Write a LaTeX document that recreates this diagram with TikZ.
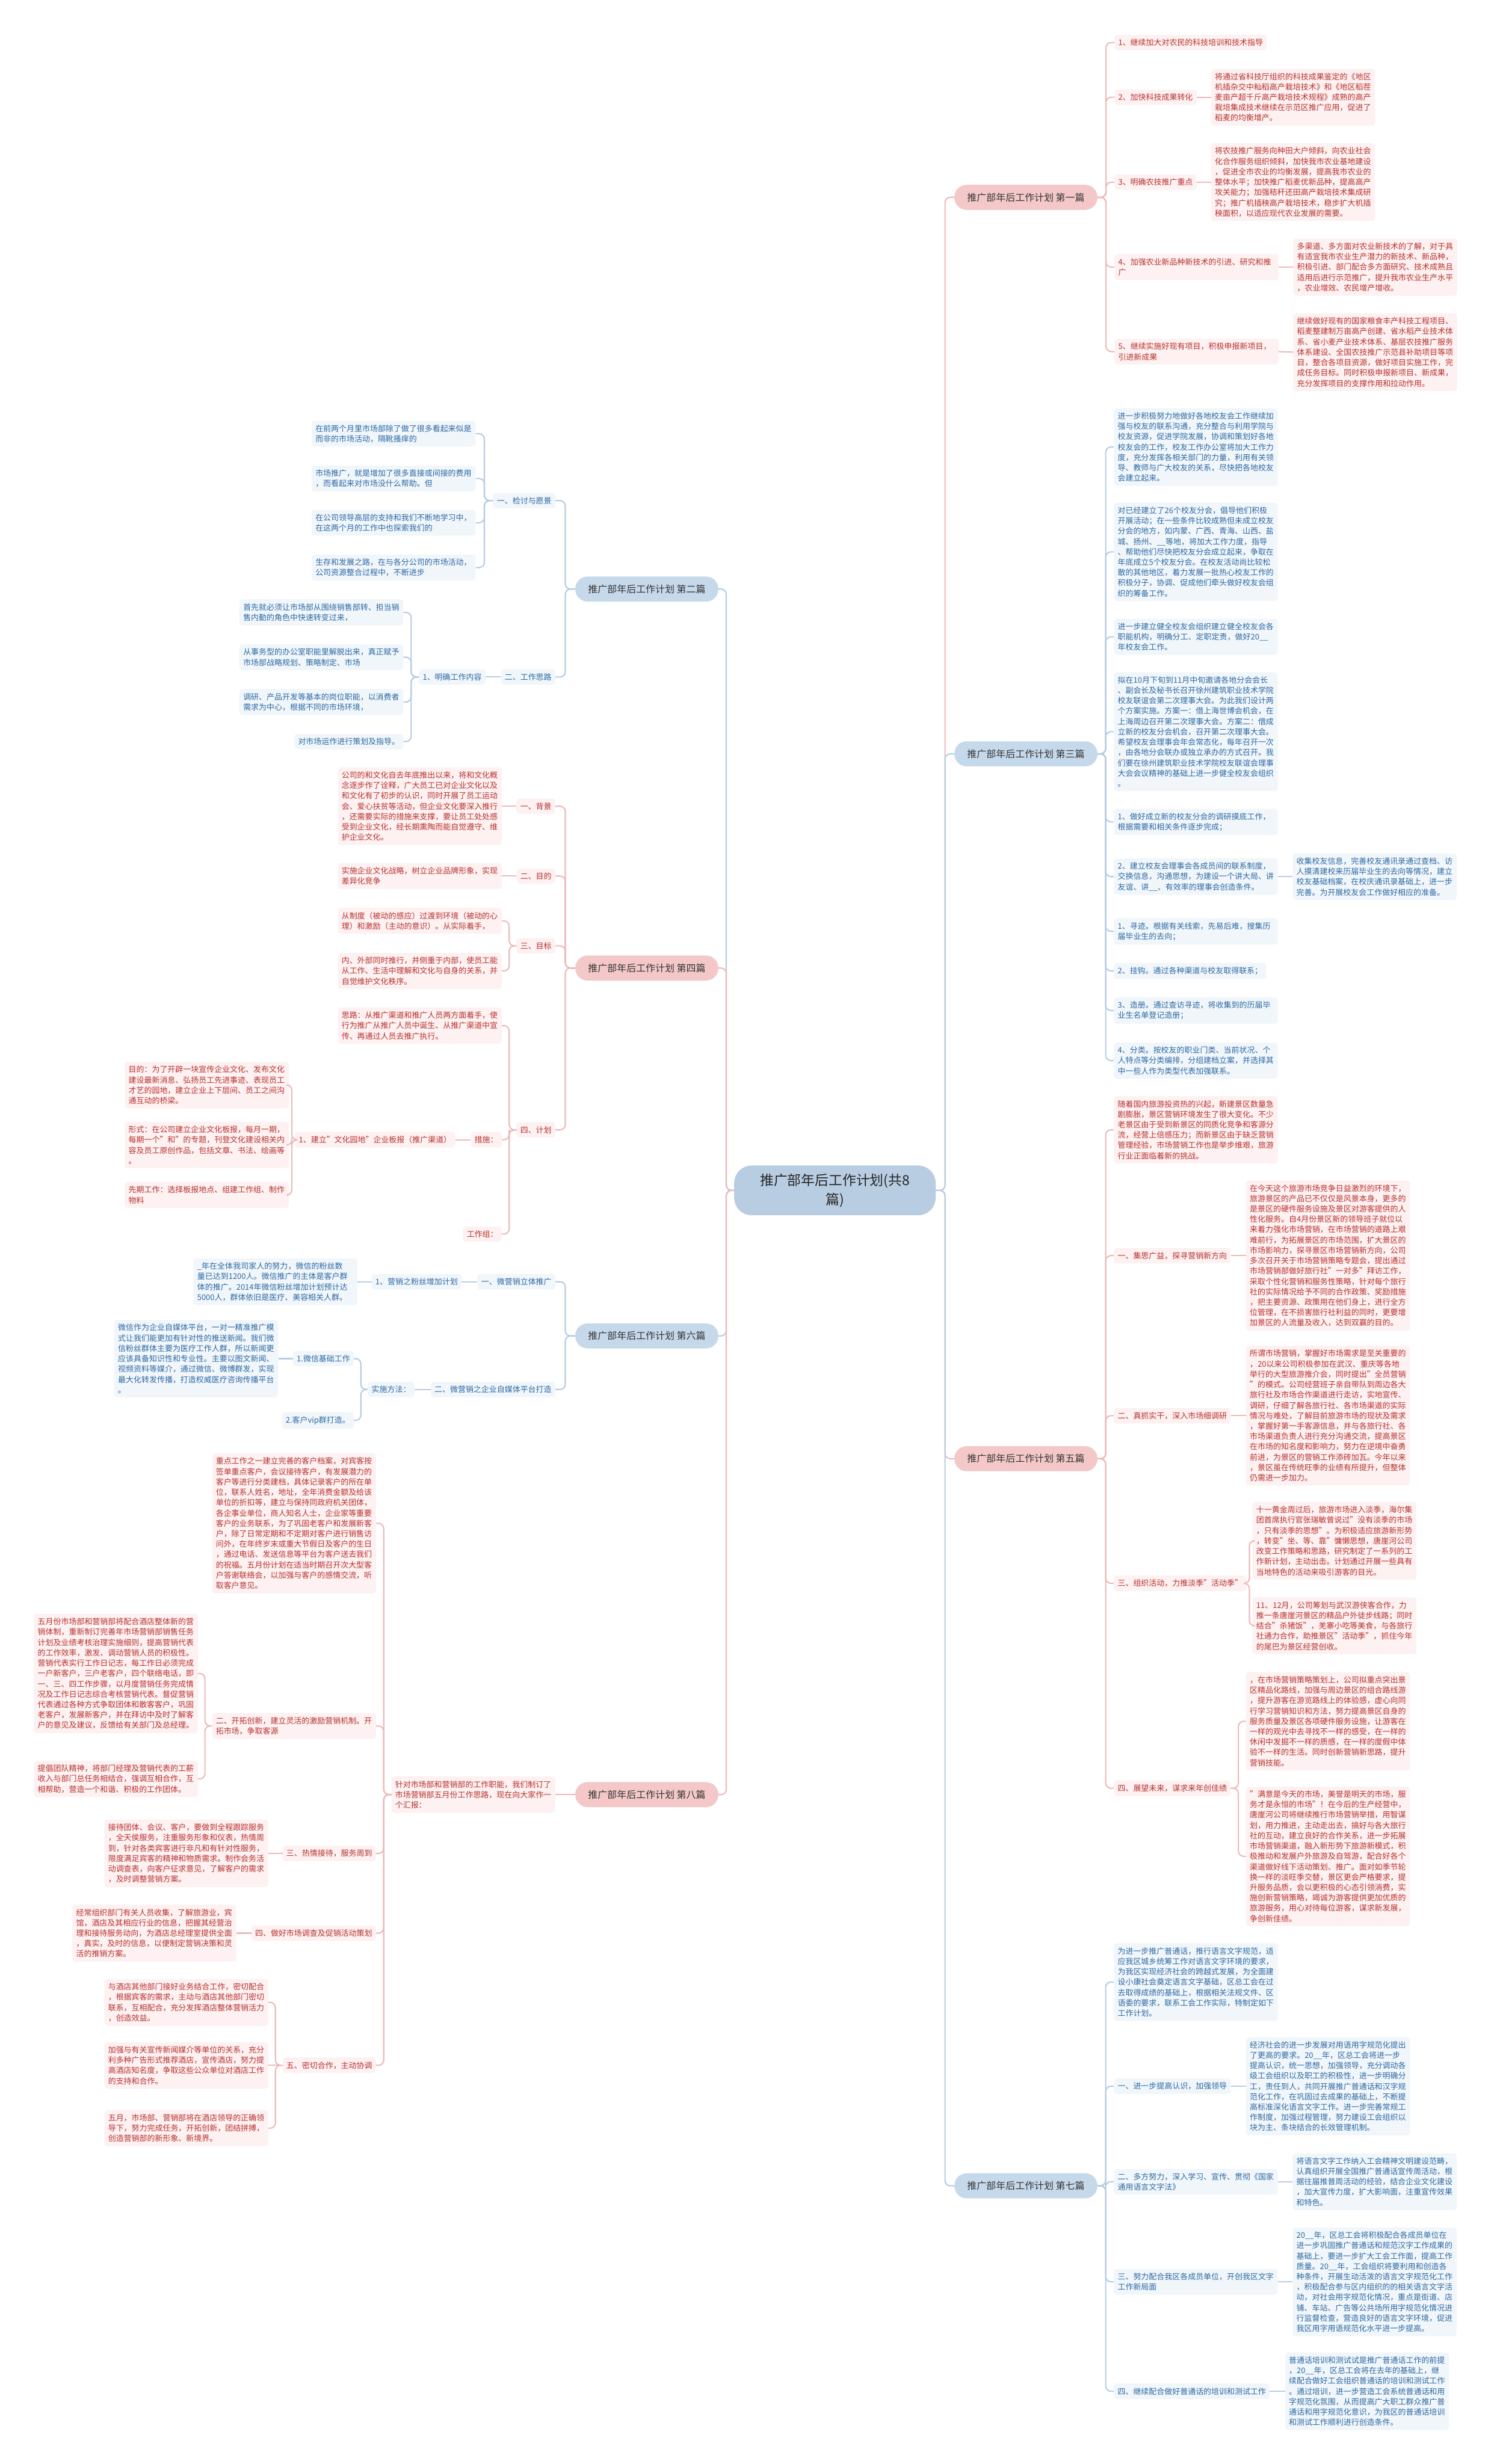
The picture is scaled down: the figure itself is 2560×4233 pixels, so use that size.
\documentclass[tikz,border=0pt]{standalone}
\usepackage{fontspec}
\setmainfont{Noto Sans CJK SC}
\usetikzlibrary{calc}

% break between any two CJK characters, punctuation included
\XeTeXinterchartokenstate=1
\count255="3000
\loop \XeTeXcharclass\count255=7 \advance\count255 by 1 \ifnum\count255<"3040 \repeat
\count255="4E00
\loop \XeTeXcharclass\count255=7 \advance\count255 by 1 \ifnum\count255<"A000 \repeat
\count255="FF00
\loop \XeTeXcharclass\count255=7 \advance\count255 by 1 \ifnum\count255<"FFF0 \repeat
\XeTeXinterchartoks 7 7 = {\hskip0pt plus 0.1pt\relax}
\XeTeXinterchartoks 0 7 = {\hskip0pt plus 0.1pt\relax}
\XeTeXinterchartoks 7 0 = {\hskip0pt plus 0.1pt\relax}

\definecolor{rtxt}{HTML}{B8312F}
\definecolor{rfill}{HTML}{FDF1F1}
\definecolor{rbr}{HTML}{F4C8C8}
\definecolor{rln}{HTML}{EDBABA}
\definecolor{btxt}{HTML}{2C69A3}
\definecolor{bfill}{HTML}{F1F6FB}
\definecolor{bbr}{HTML}{C6D9EB}
\definecolor{bln}{HTML}{B6CDE3}
\definecolor{ctr}{HTML}{B8CDE2}

\begin{document}
\begin{tikzpicture}[x=1pt,y=-1pt,
  base/.style={rounded corners=5pt,inner xsep=6.5pt,inner ysep=7pt,font=\fontsize{13.4}{17.8}\selectfont,align=left},
  rbox/.style={base,fill=rfill,text=rtxt},
  bbox/.style={base,fill=bfill,text=btxt},
  wide/.style={text width=268.5pt},
  branch/.style={rounded corners=21pt,minimum height=43pt,inner xsep=22pt,text=black!80,font=\fontsize{16.5}{20}\selectfont},
  rbranch/.style={branch,fill=rbr},
  bbranch/.style={branch,fill=bbr},
  cnode/.style={fill=ctr,text=black!85,rounded corners=30pt,text width=262pt,align=center,inner xsep=42pt,inner ysep=14pt,font=\fontsize{23.6}{33}\selectfont},
  rl/.style={draw=rln,line width=2.2pt,rounded corners=9pt},
  bl/.style={draw=bln,line width=2.2pt,rounded corners=9pt},
  elbow/.style={to path={-| ($(\tikztostart)!.5!(\tikztotarget)$) |- (\tikztotarget)}}]

\fill[white] (0,0) rectangle (2560,4233);
\useasboundingbox (0,0) rectangle (2560,4233);

\node[cnode] (root) at (1434,2045) {推广部年后工作计划(共8\\篇)};

\node[rbranch,anchor=west] (p1) at (1639,339) {推广部年后工作计划 第一篇};
\node[bbranch,anchor=west] (p3) at (1639,1295) {推广部年后工作计划 第三篇};
\node[rbranch,anchor=west] (p5) at (1639,2506) {推广部年后工作计划 第五篇};
\node[bbranch,anchor=west] (p7) at (1639,3755) {推广部年后工作计划 第七篇};
\node[bbranch,anchor=east] (p2) at (1234,1012) {推广部年后工作计划 第二篇};
\node[rbranch,anchor=east] (p4) at (1234,1663) {推广部年后工作计划 第四篇};
\node[bbranch,anchor=east] (p6) at (1234,2295) {推广部年后工作计划 第六篇};
\node[rbranch,anchor=east] (p8) at (1234,3083) {推广部年后工作计划 第八篇};

\foreach \p/\s in {p1/rl,p3/bl,p5/rl,p7/bl}
  \draw[\s] (root.east) to[elbow] (\p.west);
\foreach \p/\s in {p2/bl,p4/rl,p6/bl,p8/rl}
  \draw[\s] (root.west) to[elbow] (\p.east);

% 第一篇
\node[rbox,anchor=west] (r1a) at (1914,73) {1、继续加大对农民的科技培训和技术指导};
\node[rbox,anchor=west] (r1b) at (1914,167) {2、加快科技成果转化};
\node[rbox,anchor=west] (r1c) at (1914,313) {3、明确农技推广重点};
\node[rbox,wide,anchor=west] (r1d) at (1914,459) {4、加强农业新品种新技术的引进、研究和推广};
\node[rbox,wide,anchor=west] (r1e) at (1914,604) {5、继续实施好现有项目，积极申报新项目，引进新成果};
\node[rbox,wide,anchor=west] (d1b) at (2080,167) {将通过省科技厅组织的科技成果鉴定的《地区机插杂交中籼稻高产栽培技术》和《地区稻茬麦亩产超千斤高产栽培技术规程》成熟的高产栽培集成技术继续在示范区推广应用，促进了稻麦的均衡增产。};
\node[rbox,wide,anchor=west] (d1c) at (2080,313) {将农技推广服务向种田大户倾斜，向农业社会化合作服务组织倾斜，加快我市农业基地建设，促进全市农业的均衡发展，提高我市农业的整体水平；加快推广稻麦优新品种，提高高产攻关能力；加强秸秆还田高产栽培技术集成研究；推广机插秧高产栽培技术，稳步扩大机插秧面积，以适应现代农业发展的需要。};
\node[rbox,wide,anchor=west] (d1d) at (2221,459) {多渠道、多方面对农业新技术的了解，对于具有适宜我市农业生产潜力的新技术、新品种，积极引进、部门配合多方面研究、技术成熟且适用后进行示范推广，提升我市农业生产水平，农业增效、农民增产增收。};
\node[rbox,wide,anchor=west] (d1e) at (2221,605) {继续做好现有的国家粮食丰产科技工程项目、稻麦整建制万亩高产创建、省水稻产业技术体系、省小麦产业技术体系、基层农技推广服务体系建设、全国农技推广示范县补助项目等项目，整合各项目资源，做好项目实施工作，完成任务目标。同时积极申报新项目、新成果，充分发挥项目的支撑作用和拉动作用。};
\foreach \c in {r1a,r1b,r1c,r1d,r1e}
  \draw[rl] (p1.east) to[elbow] (\c.west);
\foreach \a/\b in {r1b/d1b,r1c/d1c,r1d/d1d,r1e/d1e}
  \draw[rl] (\a.east) -- (\b.west);

% 第三篇
\node[bbox,wide,anchor=west] (r3a) at (1913,768) {进一步积极努力地做好各地校友会工作继续加强与校友的联系沟通，充分整合与利用学院与校友资源，促进学院发展，协调和策划好各地校友会的工作，校友工作办公室将加大工作力度，充分发挥各相关部门的力量，利用有关领导、教师与广大校友的关系，尽快把各地校友会建立起来。};
\node[bbox,wide,anchor=west] (r3b) at (1913,948) {对已经建立了26个校友分会，倡导他们积极开展活动；在一些条件比较成熟但未成立校友分会的地方，如内蒙、广西、青海、山西、盐城、扬州、\_\_等地，将加大工作力度，指导、帮助他们尽快把校友分会成立起来，争取在年底成立5个校友分会。在校友活动尚比较松散的其他地区，着力发展一批热心校友工作的积极分子，协调、促成他们牵头做好校友会组织的筹备工作。};
\node[bbox,wide,anchor=west] (r3c) at (1913,1094) {进一步建立健全校友会组织建立健全校友会各职能机构，明确分工、定职定责，做好20\_\_年校友会工作。};
\node[bbox,wide,anchor=west] (r3d) at (1913,1257) {拟在10月下旬到11月中旬邀请各地分会会长、副会长及秘书长召开徐州建筑职业技术学院校友联谊会第二次理事大会。为此我们设计两个方案实施。方案一：借上海世博会机会，在上海周边召开第二次理事大会。方案二：借成立新的校友分会机会，召开第二次理事大会。希望校友会理事会年会常态化，每年召开一次，由各地分会联办或独立承办的方式召开。我们要在徐州建筑职业技术学院校友联谊会理事大会会议精神的基础上进一步健全校友会组织。};
\node[bbox,wide,anchor=west] (r3e) at (1913,1412) {1、做好成立新的校友分会的调研摸底工作，根据需要和相关条件逐步完成；};
\node[bbox,wide,anchor=west] (r3f) at (1913,1506) {2、建立校友会理事会各成员间的联系制度，交换信息，沟通思想，为建设一个讲大局、讲友谊、讲\_\_、有效率的理事会创造条件。};
\node[bbox,wide,anchor=west] (d3f) at (2220,1506) {收集校友信息，完善校友通讯录通过查档、访人摸清建校来历届毕业生的去向等情况，建立校友基础档案，在校庆通讯录基础上，进一步完善。为开展校友会工作做好相应的准备。};
\node[bbox,wide,anchor=west] (r3g) at (1913,1600) {1、寻迹。根据有关线索，先易后难，搜集历届毕业生的去向；};
\node[bbox,anchor=west] (r3h) at (1913,1668) {2、挂钩。通过各种渠道与校友取得联系；};
\node[bbox,wide,anchor=west] (r3i) at (1913,1736) {3、造册。通过查访寻迹，将收集到的历届毕业生名单登记造册；};
\node[bbox,wide,anchor=west] (r3j) at (1913,1822) {4、分类。按校友的职业门类、当前状况、个人特点等分类编排，分组建档立案，并选择其中一些人作为类型代表加强联系。};
\foreach \c in {r3a,r3b,r3c,r3d,r3e,r3f,r3g,r3h,r3i,r3j}
  \draw[bl] (p3.east) to[elbow] (\c.west);
\draw[bl] (r3f.east) -- (d3f.west);

% 第五篇
\node[rbox,wide,anchor=west] (r5a) at (1913,1941) {随着国内旅游投资热的兴起，新建景区数量急剧膨胀，景区营销环境发生了很大变化。不少老景区由于受到新景区的同质化竞争和客源分流，经营上倍感压力；而新景区由于缺乏营销管理经验，市场营销工作也是举步维艰，旅游行业正面临着新的挑战。};
\node[rbox,anchor=west] (r5b) at (1913,2157) {一、集思广益，探寻营销新方向};
\node[rbox,anchor=west] (r5c) at (1913,2432) {二、真抓实干，深入市场细调研};
\node[rbox,anchor=west] (r5d) at (1913,2720) {三、组织活动，力推淡季"活动季"};
\node[rbox,anchor=west] (r5e) at (1913,3072) {四、展望未来，谋求来年创佳绩};
\node[rbox,wide,anchor=west] (d5b) at (2140,2157) {在今天这个旅游市场竞争日益激烈的环境下，旅游景区的产品已不仅仅是风景本身，更多的是景区的硬件服务设施及景区对游客提供的人性化服务。自4月份景区新的领导班子就位以来着力强化市场营销，在市场营销的道路上艰难前行，为拓展景区的市场范围，扩大景区的市场影响力，探寻景区市场营销新方向，公司多次召开关于市场营销策略专题会，提出通过市场营销部做好旅行社"一对多"拜访工作，采取个性化营销和服务性策略，针对每个旅行社的实际情况给予不同的合作政策、奖励措施，把主要资源、政策用在他们身上，进行全方位管理，在不损害旅行社利益的同时，更要增加景区的人流量及收入，达到双赢的目的。};
\node[rbox,wide,anchor=west] (d5c) at (2140,2432) {所谓市场营销，掌握好市场需求是至关重要的，20以来公司积极参加在武汉、重庆等各地举行的大型旅游推介会，同时提出"全员营销"的模式。公司经营班子亲自带队到周边各大旅行社及市场合作渠道进行走访，实地宣传、调研，仔细了解各旅行社、各市场渠道的实际情况与难处，了解目前旅游市场的现状及需求，掌握好第一手客源信息，并与各旅行社、各市场渠道负责人进行充分沟通交流，提高景区在市场的知名度和影响力，努力在逆境中奋勇前进，为景区的营销工作添砖加瓦。今年以来，景区虽在传统旺季的业绩有所提升，但整体仍需进一步加力。};
\node[rbox,wide,anchor=west] (d5d1) at (2151,2647) {十一黄金周过后，旅游市场进入淡季，海尔集团首席执行官张瑞敏曾说过"没有淡季的市场，只有淡季的思想"。为积极适应旅游新形势，转变"坐、等、靠"慵懒思想，唐崖河公司改变工作策略和思路，研究制定了一系列的工作新计划，主动出击。计划通过开展一些具有当地特色的活动来吸引游客的目光。};
\node[rbox,wide,anchor=west] (d5d2) at (2151,2793) {11、12月，公司筹划与武汉游侠客合作，力推一条唐崖河景区的精品户外徒步线路；同时结合"杀猪饭"，羌寨小吃等美食，与各旅行社通力合作，助推景区"活动季"，抓住今年的尾巴为景区经营创收。};
\node[rbox,wide,anchor=west] (d5e1) at (2140,2957) {，在市场营销策略策划上，公司拟重点突出景区精品化路线，加强与周边景区的组合路线游，提升游客在游览路线上的体验感，虚心向同行学习营销知识和方法，努力提高景区自身的服务质量及景区各项硬件服务设施，让游客在一样的观光中去寻找不一样的感受，在一样的休闲中发掘不一样的质感，在一样的度假中体验不一样的生活。同时创新营销新思路，提升营销技能。};
\node[rbox,wide,anchor=west] (d5e2) at (2140,3189) {"满意是今天的市场，美誉是明天的市场，服务才是永恒的市场"！在今后的生产经营中，唐崖河公司将继续推行市场营销举措，用智谋划，用力推进，主动走出去，搞好与各大旅行社的互动，建立良好的合作关系，进一步拓展市场营销渠道，融入新形势下旅游新模式，积极推动和发展户外旅游及自驾游，配合好各个渠道做好线下活动策划、推广。面对如季节轮换一样的淡旺季交替，景区更会严格要求，提升服务品质，会以更积极的心态引领消费，实施创新营销策略，竭诚为游客提供更加优质的旅游服务，用心对待每位游客，谋求新发展，争创新佳绩。};
\foreach \c in {r5a,r5b,r5c,r5d,r5e}
  \draw[rl] (p5.east) to[elbow] (\c.west);
\foreach \a/\b in {r5b/d5b,r5c/d5c}
  \draw[rl] (\a.east) -- (\b.west);
\foreach \a/\b in {r5d/d5d1,r5d/d5d2,r5e/d5e1,r5e/d5e2}
  \draw[rl] (\a.east) to[elbow] (\b.west);

% 第七篇
\node[bbox,wide,anchor=west] (r7a) at (1913,3405) {为进一步推广普通话，推行语言文字规范，适应我区城乡统筹工作对语言文字环境的要求，为我区实现经济社会的跨越式发展，为全面建设小康社会奠定语言文字基础，区总工会在过去取得成绩的基础上，根据相关法规文件、区语委的要求，联系工会工作实际，特制定如下工作计划。};
\node[bbox,anchor=west] (r7b) at (1913,3584) {一、进一步提高认识，加强领导};
\node[bbox,wide,anchor=west] (r7c) at (1913,3748) {二、多方努力，深入学习、宣传、贯彻《国家通用语言文字法》};
\node[bbox,wide,anchor=west] (r7d) at (1913,3920) {三、努力配合我区各成员单位，开创我区文字工作新局面};
\node[bbox,anchor=west] (r7e) at (1913,4108) {四、继续配合做好普通话的培训和测试工作};
\node[bbox,wide,anchor=west] (d7b) at (2140,3584) {经济社会的进一步发展对用语用字规范化提出了更高的要求。20\_\_年，区总工会将进一步提高认识，统一思想，加强领导，充分调动各级工会组织以及职工的积极性，进一步明确分工，责任到人，共同开展推广普通话和汉字规范化工作，在巩固过去成果的基础上，不断提高标准深化语言文字工作。进一步完善常规工作制度，加强过程管理，努力建设工会组织以块为主、条块结合的长效管理机制。};
\node[bbox,wide,anchor=west] (d7c) at (2220,3748) {将语言文字工作纳入工会精神文明建设范畴，认真组织开展全国推广普通话宣传周活动，根据往届推普周活动的经验，结合企业文化建设，加大宣传力度，扩大影响面，注重宣传效果和特色。};
\node[bbox,wide,anchor=west] (d7d) at (2220,3920) {20\_\_年，区总工会将积极配合各成员单位在进一步巩固推广普通话和规范汉字工作成果的基础上，要进一步扩大工会工作面，提高工作质量。20\_\_年，工会组织将要利用和创造各种条件，开展生动活泼的语言文字规范化工作，积极配合参与区内组织的的相关语言文字活动，对社会用字规范化情况，重点是街道、店铺、车站、广告等公共场所用字规范化情况进行监督检查，营造良好的语言文字环境，促进我区用字用语规范化水平进一步提高。};
\node[bbox,wide,anchor=west] (d7e) at (2207,4108) {普通话培训和测试试是推广普通话工作的前提，20\_\_年，区总工会将在去年的基础上，继续配合做好工会组织普通话的培训和测试工作。通过培训，进一步营造工会系统普通话和用字规范化氛围，从而提高广大职工群众推广普通话和用字规范化意识，为我区的普通话培训和测试工作顺利进行创造条件。};
\foreach \c in {r7a,r7b,r7c,r7d,r7e}
  \draw[bl] (p7.east) to[elbow] (\c.west);
\foreach \a/\b in {r7b/d7b,r7c/d7c,r7d/d7d,r7e/d7e}
  \draw[bl] (\a.east) -- (\b.west);

% 第二篇
\node[bbox,anchor=east] (l2a) at (954,860) {一、检讨与愿景};
\node[bbox,wide,anchor=east] (l2a1) at (817,745) {在前两个月里市场部除了做了很多看起来似是而非的市场活动，隔靴搔痒的};
\node[bbox,wide,anchor=east] (l2a2) at (817,822) {市场推广，就是增加了很多直接或间接的费用，而看起来对市场没什么帮助。但};
\node[bbox,wide,anchor=east] (l2a3) at (817,898) {在公司领导高层的支持和我们不断地学习中，在这两个月的工作中也探索我们的};
\node[bbox,wide,anchor=east] (l2a4) at (817,975) {生存和发展之路，在与各分公司的市场活动，公司资源整合过程中，不断进步};
\node[bbox,anchor=east] (l2b) at (954,1163) {二、工作思路};
\node[bbox,anchor=east] (l2b1) at (834,1163) {1、明确工作内容};
\node[bbox,wide,anchor=east] (l2b1a) at (693,1052) {首先就必须让市场部从围绕销售部转、担当销售内勤的角色中快速转变过来，};
\node[bbox,wide,anchor=east] (l2b1b) at (693,1129) {从事务型的办公室职能里解脱出来，真正赋予市场部战略规划、策略制定、市场};
\node[bbox,wide,anchor=east] (l2b1c) at (693,1206) {调研、产品开发等基本的岗位职能，以消费者需求为中心，根据不同的市场环境，};
\node[bbox,anchor=east] (l2b1d) at (693,1274) {对市场运作进行策划及指导。};
\foreach \c in {l2a,l2b}
  \draw[bl] (p2.west) to[elbow] (\c.east);
\foreach \c in {l2a1,l2a2,l2a3,l2a4}
  \draw[bl] (l2a.west) to[elbow] (\c.east);
\draw[bl] (l2b.west) -- (l2b1.east);
\foreach \c in {l2b1a,l2b1b,l2b1c,l2b1d}
  \draw[bl] (l2b1.west) to[elbow] (\c.east);

% 第四篇
\node[rbox,anchor=east] (l4a) at (954,1385) {一、背景};
\node[rbox,wide,anchor=east] (l4ad) at (862,1385) {公司的和文化自去年底推出以来，将和文化概念逐步作了诠释，广大员工已对企业文化以及和文化有了初步的认识，同时开展了员工运动会、爱心扶贫等活动，但企业文化要深入推行，还需要实际的措施来支撑，要让员工处处感受到企业文化，经长期熏陶而能自觉遵守、维护企业文化。};
\node[rbox,anchor=east] (l4b) at (954,1505) {二、目的};
\node[rbox,wide,anchor=east] (l4bd) at (862,1505) {实施企业文化战略，树立企业品牌形象，实现差异化竞争};
\node[rbox,anchor=east] (l4c) at (954,1625) {三、目标};
\node[rbox,wide,anchor=east] (l4c1) at (862,1582) {从制度（被动的感应）过渡到环境（被动的心理）和激励（主动的意识）。从实际着手，};
\node[rbox,wide,anchor=east] (l4c2) at (862,1668) {内、外部同时推行，并侧重于内部，使员工能从工作、生活中理解和文化与自身的关系，并自觉维护文化秩序。};
\node[rbox,anchor=east] (l4d) at (954,1941) {四、计划};
\node[rbox,wide,anchor=east] (l4d1) at (862,1762) {思路：从推广渠道和推广人员两方面着手，使行为推广从推广人员中诞生、从推广渠道中宣传、再通过人员去推广执行。};
\node[rbox,anchor=east] (l4d2) at (862,1958) {措施：};
\node[rbox,anchor=east] (l4d3) at (862,2120) {工作组：};
\node[rbox,anchor=east] (l4e) at (782,1958) {1、建立"文化园地"企业板报（推广渠道）};
\node[rbox,wide,anchor=east] (l4e1) at (496,1864) {目的：为了开辟一块宣传企业文化、发布文化建设最新消息、弘扬员工先进事迹、表现员工才艺的园地，建立企业上下层间、员工之间沟通互动的桥梁。};
\node[rbox,wide,anchor=east] (l4e2) at (496,1967) {形式：在公司建立企业文化板报，每月一期，每期一个"和"的专题，刊登文化建设相关内容及员工原创作品，包括文章、书法、绘画等。};
\node[rbox,wide,anchor=east] (l4e3) at (496,2053) {先期工作：选择板报地点、组建工作组、制作物料};
\foreach \c in {l4a,l4b,l4c,l4d}
  \draw[rl] (p4.west) to[elbow] (\c.east);
\foreach \a/\b in {l4a/l4ad,l4b/l4bd,l4d2/l4e}
  \draw[rl] (\a.west) -- (\b.east);
\foreach \a/\b in {l4c/l4c1,l4c/l4c2,l4d/l4d1,l4d/l4d2,l4d/l4d3,l4e/l4e1,l4e/l4e2,l4e/l4e3}
  \draw[rl] (\a.west) to[elbow] (\b.east);

% 第六篇
\node[bbox,anchor=east] (l6a) at (954,2202) {一、微营销立体推广};
\node[bbox,anchor=east] (l6a1) at (793,2202) {1、营销之粉丝增加计划};
\node[bbox,wide,anchor=east] (l6a1d) at (614,2202) {\_年在全体我司家人的努力，微信的粉丝数量已达到1200人。微信推广的主体是客户群体的推广。2014年微信粉丝增加计划预计达5000人，群体依旧是医疗、美容相关人群。};
\node[bbox,anchor=east] (l6b) at (954,2387) {二、微营销之企业自媒体平台打造};
\node[bbox,anchor=east] (l6b1) at (712,2387) {实施方法：};
\node[bbox,anchor=east] (l6b1a) at (608,2334) {1.微信基础工作};
\node[bbox,wide,anchor=east] (l6b1ad) at (478,2334) {微信作为企业自媒体平台，一对一精准推广模式让我们能更加有针对性的推送新闻。我们微信粉丝群体主要为医疗工作人群，所以新闻更应该具备知识性和专业性。主要以图文新闻、视频资料等媒介，通过微信、微博群发，实现最大化转发传播，打造权威医疗咨询传播平台。};
\node[bbox,anchor=east] (l6b1b) at (608,2440) {2.客户vip群打造。};
\foreach \c in {l6a,l6b}
  \draw[bl] (p6.west) to[elbow] (\c.east);
\foreach \a/\b in {l6a/l6a1,l6a1/l6a1d,l6b/l6b1,l6b1a/l6b1ad}
  \draw[bl] (\a.west) -- (\b.east);
\foreach \c in {l6b1a,l6b1b}
  \draw[bl] (l6b1.west) to[elbow] (\c.east);

% 第八篇
\node[rbox,wide,anchor=east] (l8a) at (954,3083) {针对市场部和营销部的工作职能，我们制订了市场营销部五月份工作思路，现在向大家作一个汇报：};
\node[rbox,wide,anchor=east] (l8a1) at (646,2617) {重点工作之一建立完善的客户档案，对宾客按签单重点客户，会议接待客户，有发展潜力的客户等进行分类建档，具体记录客户的所在单位，联系人姓名，地址，全年消费金额及给该单位的折扣等，建立与保持同政府机关团体，各企事业单位，商人知名人士，企业家等重要客户的业务联系，为了巩固老客户和发展新客户，除了日常定期和不定期对客户进行销售访问外，在年终岁末或重大节假日及客户的生日，通过电话、发送信息等平台为客户送去我们的祝福。五月份计划在适当时期召开次大型客户答谢联络会，以加强与客户的感情交流，听取客户意见。};
\node[rbox,wide,anchor=east] (l8a2) at (646,2965) {二、开拓创新，建立灵活的激励营销机制。开拓市场，争取客源};
\node[rbox,wide,anchor=east] (l8a2a) at (340,2875) {五月份市场部和营销部将配合酒店整体新的营销体制，重新制订完善年市场营销部销售任务计划及业绩考核治理实施细则，提高营销代表的工作效率，激发、调动营销人员的积极性。营销代表实行工作日记志，每工作日必须完成一户新客户，三户老客户，四个联络电话，即一、三、四工作步骤，以月度营销任务完成情况及工作日记志综合考核营销代表。督促营销代表通过各种方式争取团体和散客客户，巩固老客户，发展新客户，并在拜访中及时了解客户的意见及建议，反馈给有关部门及总经理。};
\node[rbox,wide,anchor=east] (l8a2b) at (340,3056) {提倡团队精神，将部门经理及营销代表的工薪收入与部门总任务相结合，强调互相合作，互相帮助，营造一个和谐、积极的工作团体。};
\node[rbox,anchor=east] (l8a3) at (646,3184) {三、热情接待，服务周到};
\node[rbox,wide,anchor=east] (l8a3d) at (461,3184) {接待团体、会议、客户，要做到全程跟踪服务，全天侯服务，注重服务形象和仪表，热情周到，针对各类宾客进行非凡和有针对性服务，限度满足宾客的精神和物质需求。制作会务活动调查表，向客户征求意见，了解客户的需求，及时调整营销方案。};
\node[rbox,anchor=east] (l8a4) at (646,3321) {四、做好市场调查及促销活动策划};
\node[rbox,wide,anchor=east] (l8a4d) at (406,3321) {经常组织部门有关人员收集，了解旅游业，宾馆，酒店及其相应行业的信息，把握其经营治理和接待服务动向，为酒店总经理室提供全面，真实，及时的信息，以便制定营销决策和灵活的推销方案。};
\node[rbox,anchor=east] (l8a5) at (646,3548) {五、密切合作，主动协调};
\node[rbox,wide,anchor=east] (l8a5a) at (461,3440) {与酒店其他部门接好业务结合工作，密切配合，根据宾客的需求，主动与酒店其他部门密切联系，互相配合，充分发挥酒店整体营销活力，创造效益。};
\node[rbox,wide,anchor=east] (l8a5b) at (461,3548) {加强与有关宣传新闻媒介等单位的关系，充分利多种广告形式推荐酒店，宣传酒店，努力提高酒店知名度，争取这些公众单位对酒店工作的支持和合作。};
\node[rbox,wide,anchor=east] (l8a5c) at (461,3656) {五月，市场部、营销部将在酒店领导的正确领导下，努力完成任务，开拓创新，团结拼搏，创造营销部的新形象、新境界。};
\draw[rl] (p8.west) -- (l8a.east);
\foreach \c in {l8a1,l8a2,l8a3,l8a4,l8a5}
  \draw[rl] (l8a.west) to[elbow] (\c.east);
\foreach \a/\b in {l8a2/l8a2a,l8a2/l8a2b,l8a5/l8a5a,l8a5/l8a5c}
  \draw[rl] (\a.west) to[elbow] (\b.east);
\foreach \a/\b in {l8a3/l8a3d,l8a4/l8a4d,l8a5/l8a5b}
  \draw[rl] (\a.west) -- (\b.east);

\end{tikzpicture}
\end{document}
